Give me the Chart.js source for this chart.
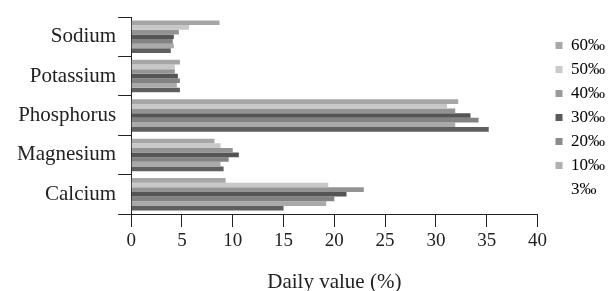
<!DOCTYPE html>
<html>
<head>
<meta charset="utf-8">
<script src="https://cdn.jsdelivr.net/npm/chart.js@4.4.0/dist/chart.umd.min.js"></script>
<style>
  html, body { margin: 0; padding: 0; background: #fff; }
  #wrap { width: 608px; height: 291px; }
</style>
</head>
<body>
<div id="wrap"><canvas id="myChart" width="608" height="291"></canvas></div>
<script>
var categories = ['Sodium', 'Potassium', 'Phosphorus', 'Magnesium', 'Calcium'];
var seriesNames = ['60‰', '50‰', '40‰', '30‰', '20‰', '10‰', '3‰'];
var seriesColors = ['#a6a6a6', '#c8c8c8', '#939393', '#555555', '#838383', '#aaaaaa', '#5f5f5f'];
var legendColors = ['#a8a8a8', '#cacaca', '#9a9a9a', '#5a5a5a', '#8a8a8a', '#b0b0b0', 'rgba(0,0,0,0)'];

// values per series, in category order
var v60 = [8.7, 4.8, 32.2, 8.2, 9.3];
var v50 = [5.7, 4.3, 31.1, 8.8, 19.4];
var v40 = [4.7, 4.3, 31.9, 10.0, 22.9];
var v30 = [4.2, 4.6, 33.4, 10.6, 21.2];
var v20 = [4.1, 4.8, 34.2, 9.6, 20.0];
var v10 = [4.2, 4.5, 31.9, 8.8, 19.2];
var v3 = [3.9, 4.8, 35.2, 9.1, 15.0];
var xTicks = [0, 5, 10, 15, 20, 25, 30, 35, 40];

var allValues = [v60, v50, v40, v30, v20, v10, v3];
var datasets = [];
for (var i = 0; i < seriesNames.length; i++) {
    datasets.push({
        label: seriesNames[i],
        data: allValues[i],
        backgroundColor: seriesColors[i],
        borderWidth: 0
    });
}

var serif = "'Liberation Serif', 'Times New Roman', serif";
var ink = '#222222';

// nudge the legend a bit away from the plot, like the original figure
var legendShift = {
    id: 'legendShift',
    afterLayout: function (chart) {
        var lg = chart.legend;
        if (!lg) return;
        var dx = chart.chartArea.right + 11 - lg.left;
        lg.left += dx;
        lg.right += dx;
        lg.top += 2;
        lg.bottom += 2;
    }
};

var ctx = document.getElementById('myChart').getContext('2d');
var myChart = new Chart(ctx, {
    type: 'bar',
    data: {
        labels: categories,
        datasets: datasets
    },
    plugins: [legendShift],
    options: {
        indexAxis: 'y',
        responsive: false,
        animation: false,
        datasets: {
            bar: { categoryPercentage: 0.825, barPercentage: 1.0 }
        },
        layout: {
            padding: { left: 15, top: 17, right: 4, bottom: 0 }
        },
        scales: {
            x: {
                min: 0,
                max: 40,
                afterBuildTicks: function (axis) {
                    axis.ticks = xTicks.map(function (t) { return { value: t }; });
                },
                border: { display: true, color: ink, width: 1 },
                grid: { drawOnChartArea: false, drawTicks: true, tickLength: 13, color: ink },
                ticks: { color: ink, padding: 3, font: { family: serif, size: 19 } },
                title: {
                    display: true,
                    text: 'Daily value (%)',
                    color: ink,
                    font: { family: serif, size: 21 },
                    padding: { top: 14, bottom: -4 }
                }
            },
            y: {
                border: { display: true, color: ink, width: 1 },
                grid: { offset: true, drawOnChartArea: false, drawTicks: true, tickLength: 13, color: ink },
                ticks: { color: ink, padding: 2, font: { family: serif, size: 21 } }
            }
        },
        plugins: {
            tooltip: { enabled: false },
            legend: {
                position: 'right',
                fullSize: false,
                labels: {
                    boxWidth: 7,
                    boxHeight: 7,
                    padding: 7,
                    color: ink,
                    font: { family: serif, size: 17 },
                    generateLabels: function (chart) {
                        return chart.data.datasets.map(function (ds, i) {
                            return {
                                text: ds.label,
                                fillStyle: legendColors[i],
                                strokeStyle: legendColors[i],
                                lineWidth: 0,
                                hidden: false,
                                datasetIndex: i
                            };
                        });
                    }
                }
            }
        }
    }
});
</script>
</body>
</html>
